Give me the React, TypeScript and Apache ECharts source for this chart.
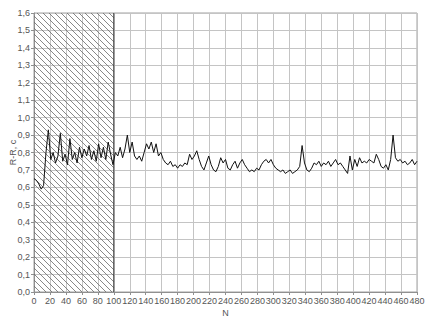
import React, { useEffect, useRef } from "react";
import * as echarts from "echarts";

// Sample spacing along N (each value below is one reading every N_STEP intervals)
const N_STEP = 3;

// R-R interval values, c (N = 0, 3, 6, ... 480)
const rrValues = [
  0.65, 0.64, 0.62, 0.59, 0.61, 0.80, 0.93, 0.76, 0.80, 0.74,
  0.78, 0.91, 0.75, 0.79, 0.73, 0.88, 0.76, 0.80, 0.74, 0.83,
  0.77, 0.82, 0.78, 0.84, 0.76, 0.81, 0.75, 0.85, 0.77, 0.83,
  0.76, 0.86, 0.79, 0.73, 0.80, 0.78, 0.83, 0.77, 0.82, 0.90,
  0.80, 0.86, 0.78, 0.76, 0.78, 0.75, 0.80, 0.85, 0.82, 0.86,
  0.80, 0.85, 0.78, 0.80, 0.76, 0.74, 0.73, 0.75, 0.72, 0.73,
  0.71, 0.73, 0.72, 0.74, 0.73, 0.79, 0.76, 0.78, 0.81, 0.76,
  0.72, 0.70, 0.74, 0.78, 0.73, 0.70, 0.69, 0.72, 0.77, 0.74,
  0.76, 0.71, 0.70, 0.73, 0.75, 0.71, 0.74, 0.76, 0.73, 0.71,
  0.69, 0.70, 0.69, 0.71, 0.70, 0.73, 0.75, 0.76, 0.74, 0.76,
  0.73, 0.71, 0.70, 0.69, 0.70, 0.68, 0.69, 0.70, 0.68, 0.69,
  0.70, 0.72, 0.84, 0.74, 0.70, 0.69, 0.71, 0.74, 0.73, 0.75,
  0.72, 0.74, 0.73, 0.75, 0.72, 0.74, 0.76, 0.73, 0.74, 0.72,
  0.70, 0.68, 0.78, 0.70, 0.76, 0.72, 0.77, 0.74, 0.75, 0.74,
  0.76, 0.75, 0.74, 0.79, 0.76, 0.72, 0.71, 0.73, 0.70, 0.76,
  0.90, 0.77, 0.75, 0.76, 0.74, 0.75, 0.73, 0.74, 0.76, 0.73,
  0.75,
];

// Hatched (adaptation) interval on N
const hatchRange = [0, 100];

const X_MIN = 0;
const X_MAX = 480;
const X_INTERVAL = 20;
const Y_MIN = 0;
const Y_MAX = 1.6;
const Y_INTERVAL = 0.1;

const X_NAME = "N";
const Y_NAME = "R-R, c";

export default function App() {
  const ref = useRef<HTMLDivElement>(null);

  useEffect(() => {
    if (!ref.current) return;
    const chart = echarts.init(ref.current, undefined, { renderer: "svg" });

    const lineData = rrValues.map((v, i) => [i * N_STEP, v]);
    const textColor = "#555";
    const font = "Liberation Sans";

    const option: any = {
      animation: false,
      backgroundColor: "#fff",
      grid: {
        left: 34,
        right: 13,
        top: 13,
        bottom: 29,
        containLabel: false,
        outerBoundsMode: "none",
        show: true,
        borderColor: "#a0a0a0",
        borderWidth: 1,
        backgroundColor: "transparent",
      },
      xAxis: {
        type: "value",
        min: X_MIN,
        max: X_MAX,
        interval: X_INTERVAL,
        name: X_NAME,
        nameLocation: "middle",
        nameGap: 16,
        nameMoveOverlap: false,
        nameTextStyle: { color: textColor, fontSize: 9, fontFamily: font },
        axisLine: { show: true, lineStyle: { color: "#909090", width: 1 } },
        axisTick: { show: true, length: 3, lineStyle: { color: "#909090" } },
        axisLabel: {
          color: textColor,
          fontSize: 9,
          fontFamily: font,
          margin: 4,
          showMinLabel: true,
          showMaxLabel: true,
        },
        splitLine: { show: true, lineStyle: { color: "#c4c4c4", width: 1 } },
      },
      yAxis: {
        type: "value",
        min: Y_MIN,
        max: Y_MAX,
        interval: Y_INTERVAL,
        name: Y_NAME,
        nameLocation: "middle",
        nameGap: 17,
        nameRotate: 90,
        nameMoveOverlap: false,
        nameTextStyle: { color: textColor, fontSize: 9, fontFamily: font },
        axisLine: { show: true, lineStyle: { color: "#909090", width: 1 } },
        axisTick: { show: true, length: 3, lineStyle: { color: "#909090" } },
        axisLabel: {
          color: textColor,
          fontSize: 9,
          fontFamily: font,
          margin: 4,
          formatter: (v: number) => v.toFixed(1).replace(".", ","),
        },
        splitLine: { show: true, lineStyle: { color: "#c4c4c4", width: 1 } },
      },
      series: [
        {
          type: "custom",
          silent: true,
          z: 1,
          clip: false,
          data: [[hatchRange[0], Y_MAX, hatchRange[1], Y_MIN]],
          dimensions: ["x0", "y0", "x1", "y1"],
          encode: { x: [0, 2], y: [1, 3] },
          renderItem: (params: any, api: any) => {
            const p0 = api.coord([api.value(0), api.value(1)]);
            const p1 = api.coord([api.value(2), api.value(3)]);
            const left = p0[0];
            const top = p0[1];
            const right = p1[0];
            const bottom = p1[1];
            const H = bottom - top;
            const step = 6;
            const children: any[] = [];
            for (let c = left - H; c <= right; c += step) {
              let xs = c;
              let ys = top;
              if (xs < left) {
                ys = top + (left - c);
                xs = left;
              }
              let xe = c + H;
              let ye = bottom;
              if (xe > right) {
                ye = top + (right - c);
                xe = right;
              }
              if (ys >= bottom || ye <= top) continue;
              children.push({
                type: "line",
                shape: { x1: xs, y1: ys, x2: xe, y2: ye },
                style: { stroke: "#6a6a6a", lineWidth: 0.8 },
              });
            }
            children.push({
              type: "line",
              shape: { x1: right, y1: top, x2: right, y2: bottom },
              style: { stroke: "#333", lineWidth: 1 },
            });
            return { type: "group", children };
          },
        },
        {
          type: "line",
          data: lineData,
          z: 3,
          symbol: "none",
          showSymbol: false,
          lineStyle: { color: "#111", width: 1 },
        },
      ],
    };

    chart.setOption(option);
    return () => chart.dispose();
  }, []);

  return (
    <div
      ref={ref}
      style={{ position: "absolute", left: 0, top: 0, width: 430, height: 321 }}
    />
  );
}
